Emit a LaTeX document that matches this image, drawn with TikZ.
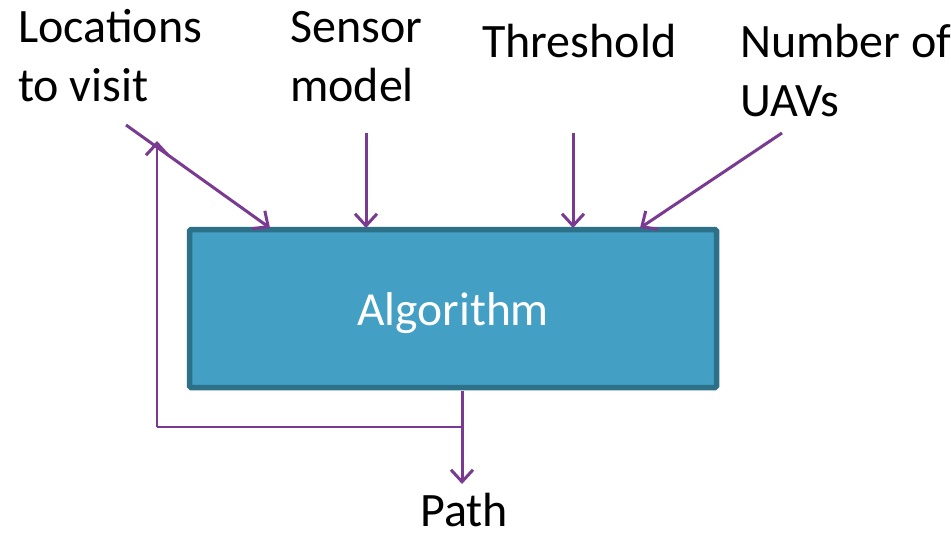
\documentclass[tikz,border=0pt]{standalone}
\usepackage{fontspec}
\setmainfont{Carlito}
\usetikzlibrary{arrows.meta}
\definecolor{arrowpurple}{HTML}{7A3A92}
\definecolor{boxfill}{HTML}{439FC3}
\definecolor{boxedge}{HTML}{2D7189}
\tikzset{
  lbl/.style={anchor=base west, inner sep=0pt, font=\fontsize{48}{56}\selectfont},
  algbox/.style={draw=boxedge, fill=boxfill, line width=5.5pt, rounded corners=1.5pt, inner sep=0pt},
  barb/.style={-{Straight Barb[length=12pt, width=22pt, line width=3pt]}},
  inarrow/.style={draw=arrowpurple, line width=3pt, barb},
  thinline/.style={draw=arrowpurple, line width=2.3pt}
}
\begin{document}
\begin{tikzpicture}[x=1pt, y=-1pt]
\useasboundingbox (0,0) rectangle (951,535);
% labels
\node[lbl] (loc1) at (18,43) {Locations};
\node[lbl] (loc2) at (18,101) {to visit};
\node[lbl] (sen1) at (290,43) {Sensor};
\node[lbl] (sen2) at (290,101) {model};
\node[lbl] (thr) at (482,58) {Threshold};
\node[lbl] (num1) at (740,58) {Number of};
\node[lbl] (num2) at (740,116) {UAVs};
\node[lbl] (path) at (420,526) {Path};
% box
\node[algbox, minimum width=527pt, minimum height=158pt] (alg) at (453,308.5)
  {\raisebox{-17pt}[0pt][0pt]{\textcolor{white}{\fontsize{47.5}{56}\selectfont Algorithm}}};
% arrow endpoints
\coordinate (locS) at (126,125);
\coordinate (locE) at (270,228);
\coordinate (senS) at (366,133);
\coordinate (senE) at (366,228);
\coordinate (thrS) at (573,133);
\coordinate (thrE) at (573,228);
\coordinate (numS) at (782,133);
\coordinate (numE) at (640,228);
\coordinate (outS) at (462,391);
\coordinate (outE) at (462,484);
\coordinate (split) at (462,427);
\coordinate (fbCorner) at (157,427);
\coordinate (fbE) at (157,141);
% connectors
\draw[inarrow] (locS) -- (locE);
\draw[inarrow] (senS) -- (senE);
\draw[inarrow] (thrS) -- (thrE);
\draw[inarrow] (numS) -- (numE);
\draw[inarrow] (outS) -- (outE);
\draw[thinline] (split) -- (fbCorner);
\draw[thinline, barb] (fbCorner) -- (fbE);
\end{tikzpicture}
\end{document}
